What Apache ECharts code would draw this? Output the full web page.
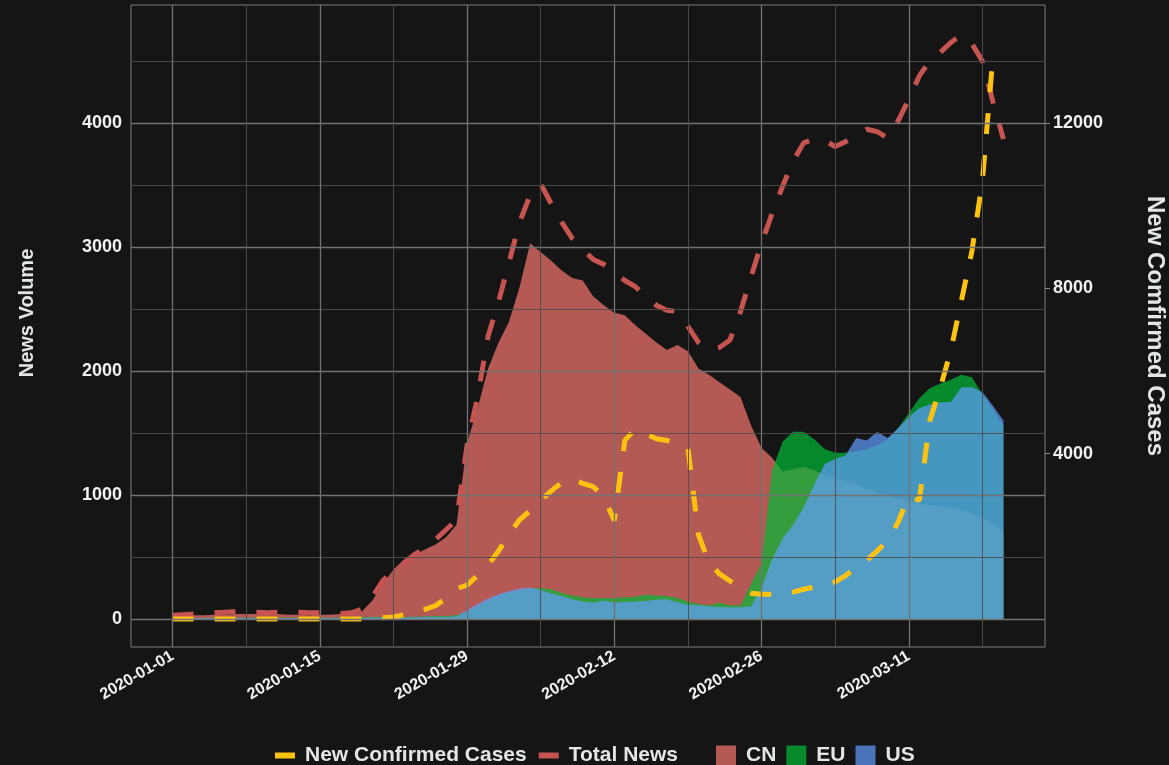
<!DOCTYPE html>
<html>
<head>
<meta charset="utf-8">
<title>News Volume vs New Confirmed Cases</title>
<script src="https://cdn.jsdelivr.net/npm/echarts@6/dist/echarts.min.js"></script>
<style>
html,body{margin:0;padding:0;background:#151515;}
#main{width:1169px;height:765px;}
</style>
</head>
<body>
<div id="main"></div>
<script>
// one entry per day, 2020-01-01 .. 2020-03-20
var dates = [
    '2020-01-01','2020-01-02','2020-01-03','2020-01-04','2020-01-05','2020-01-06','2020-01-07','2020-01-08','2020-01-09','2020-01-10',
    '2020-01-11','2020-01-12','2020-01-13','2020-01-14','2020-01-15','2020-01-16','2020-01-17','2020-01-18','2020-01-19','2020-01-20',
    '2020-01-21','2020-01-22','2020-01-23','2020-01-24','2020-01-25','2020-01-26','2020-01-27','2020-01-28','2020-01-29','2020-01-30',
    '2020-01-31','2020-02-01','2020-02-02','2020-02-03','2020-02-04','2020-02-05','2020-02-06','2020-02-07','2020-02-08','2020-02-09',
    '2020-02-10','2020-02-11','2020-02-12','2020-02-13','2020-02-14','2020-02-15','2020-02-16','2020-02-17','2020-02-18','2020-02-19',
    '2020-02-20','2020-02-21','2020-02-22','2020-02-23','2020-02-24','2020-02-25','2020-02-26','2020-02-27','2020-02-28','2020-02-29',
    '2020-03-01','2020-03-02','2020-03-03','2020-03-04','2020-03-05','2020-03-06','2020-03-07','2020-03-08','2020-03-09','2020-03-10',
    '2020-03-11','2020-03-12','2020-03-13','2020-03-14','2020-03-15','2020-03-16','2020-03-17','2020-03-18','2020-03-19','2020-03-20'
];
var tickDates = ['2020-01-01','2020-01-15','2020-01-29','2020-02-12','2020-02-26','2020-03-11'];
var volumeTicks = [0, 1000, 2000, 3000, 4000];
var casesTicks = [4000, 8000, 12000];

// news volume by region
var cnNews = [
    20,25,30,30,35,35,40,40,40,35, 40,35,35,30,35,35,40,40,60,150,
    280,400,480,520,560,600,660,760,1420,1700, 2020,2230,2400,2680,3030,2960,2890,2810,2750,2730,
    2600,2530,2470,2450,2370,2300,2230,2170,2210,2160, 2020,1970,1910,1850,1790,1560,1380,1300,1190,1210,
    1225,1200,1160,1130,1110,1080,1050,1020,990,970, 950,930,920,910,900,880,850,810,770,700
];
var euNews = [
    5,5,8,8,10,10,10,10,10,10, 10,10,10,10,10,10,12,12,15,15,
    15,15,15,18,20,25,25,30,60,100, 150,190,215,230,245,250,240,210,190,175,
    170,170,170,175,180,195,190,185,170,140, 120,110,130,110,110,280,450,1200,1430,1510,
    1510,1450,1370,1340,1340,1350,1370,1400,1450,1540, 1660,1780,1860,1900,1930,1970,1950,1810,1690,1560
];
var usNews = [
    5,5,5,5,8,8,8,8,8,8, 8,8,8,8,8,8,8,8,10,10,
    12,12,12,14,15,15,16,20,70,120, 165,200,225,245,252,236,205,185,160,140,
    130,150,130,137,140,145,155,160,135,115, 110,100,97,95,95,100,250,480,650,760,
    900,1080,1250,1290,1320,1460,1440,1510,1460,1540, 1630,1700,1730,1745,1750,1870,1870,1830,1720,1600
];
var totalNews = [
    30,35,40,45,50,55,60,60,55,50, 55,60,55,50,50,55,45,50,80,180,
    310,390,450,520,570,640,720,800,1400,1790, 2280,2560,2880,3200,3420,3510,3350,3200,3070,2980,
    2900,2860,2800,2730,2680,2600,2530,2490,2480,2360, 2230,2170,2190,2250,2480,2760,3030,3270,3490,3690,
    3840,3870,3860,3810,3850,3900,3950,3930,3880,4020, 4190,4380,4500,4570,4650,4710,4640,4500,4170,3870
];
var newCases = [
    0,0,0,0,0,0,0,0,0,0, 0,0,0,0,0,0,0,0,0,20,
    30,50,100,150,230,320,500,730,820,1050, 1300,1650,2050,2400,2620,2860,3100,3300,3400,3280,
    3200,2960,2380,4320,4600,4480,4360,4320,4220,4150, 2040,1360,1090,920,740,620,600,600,610,650,
    720,770,790,900,1050,1250,1420,1650,1900,2350, 2980,2870,4800,5600,6500,7700,8900,10600,13600,null
];

function pairs(arr) {
    return arr.map(function (v, i) { return [i, v]; });
}

var tickIdx = tickDates.map(function (d) { return dates.indexOf(d); });
var txt = '#e2e6e6';
var font = "'Liberation Sans', Arial, sans-serif";

// grid lines (major + minor, like ggplot)
var gridLines = [];
var majorStyle = { color: '#727272', width: 1.3, type: 'solid' };
var minorStyle = { color: '#4e4e4e', width: 0.9, type: 'solid' };
[0, 500, 1000, 1500, 2000, 2500, 3000, 3500, 4000, 4500].forEach(function (v) {
    gridLines.push({ yAxis: v, lineStyle: v % 1000 === 0 ? majorStyle : minorStyle });
});
[0, 7, 14, 21, 28, 35, 42, 49, 56, 63, 70, 77].forEach(function (v) {
    gridLines.push({ xAxis: v, lineStyle: v % 14 === 0 ? majorStyle : minorStyle });
});

function areaSeries(name, arr, color) {
    return {
        name: name, type: 'line', data: pairs(arr), z: 2,
        symbol: 'none', showSymbol: false,
        itemStyle: { color: color },
        lineStyle: { width: 0, opacity: 0 },
        areaStyle: { color: color, opacity: 0.7 }
    };
}

var plain = function (v) { return String(v); };
var legendText = { color: txt, fontSize: 21, fontWeight: 'bold', fontFamily: font, padding: [0, 0, 0, 5] };

var chart = echarts.init(document.getElementById('main'));
chart.setOption({
    backgroundColor: '#151515',
    animation: false,
    grid: {
        left: 131, right: 124, top: 5, bottom: 118,
        outerBoundsMode: 'none', containLabel: false,
        show: true, borderColor: '#7c7c7c', borderWidth: 1, backgroundColor: 'transparent'
    },
    legend: [{
        left: 270, top: 740,
        itemWidth: 20, itemHeight: 6, itemGap: 12,
        textStyle: legendText,
        data: [
            { name: 'New Confirmed Cases', icon: 'rect', itemStyle: { color: '#FFC20E' } },
            { name: 'Total News', icon: 'rect', itemStyle: { color: '#C75450' } }
        ]
    }, {
        left: 711, top: 740,
        itemWidth: 20, itemHeight: 20, itemGap: 10,
        textStyle: legendText,
        data: [
            { name: 'CN', icon: 'rect', itemStyle: { color: '#B45953' } },
            { name: 'EU', icon: 'rect', itemStyle: { color: '#07892E' } },
            { name: 'US', icon: 'rect', itemStyle: { color: '#4B74B9' } }
        ]
    }],
    xAxis: {
        type: 'value', min: -3.95, max: 82.95,
        axisLine: { show: false },
        splitLine: { show: false },
        axisTick: { show: true, length: 5, customValues: tickIdx, lineStyle: { color: '#8a8a8a' } },
        axisLabel: {
            customValues: tickIdx, rotate: 30, margin: 8,
            color: '#f2f2f2', fontSize: 16, fontWeight: 'bold', fontFamily: font,
            formatter: function (v) { return dates[Math.round(v)]; }
        }
    },
    yAxis: [{
        type: 'value', min: -226, max: 4952,
        name: 'News Volume', nameLocation: 'middle', nameGap: 94, nameRotate: 90,
        nameTextStyle: { color: txt, fontSize: 20, fontWeight: 'bold', fontFamily: font, padding: [0, 0, 0, 26] },
        axisLine: { show: false },
        splitLine: { show: false },
        axisTick: { show: true, length: 5, customValues: volumeTicks, lineStyle: { color: '#8a8a8a' } },
        axisLabel: { customValues: volumeTicks, margin: 9, color: '#f2f2f2', fontSize: 18, fontWeight: 'bold', fontFamily: font, formatter: plain }
    }, {
        type: 'value', position: 'right', min: -678, max: 14856,
        name: 'New Comfirmed Cases', nameLocation: 'middle', nameGap: 98, nameRotate: -90,
        nameTextStyle: { color: txt, fontSize: 24, fontWeight: 'bold', fontFamily: font },
        axisLine: { show: false },
        splitLine: { show: false },
        axisTick: { show: true, length: 5, customValues: casesTicks, lineStyle: { color: '#8a8a8a' } },
        axisLabel: { customValues: casesTicks, margin: 8, color: '#f2f2f2', fontSize: 18, fontWeight: 'bold', fontFamily: font, formatter: plain }
    }],
    series: [
        {
            name: 'grid', type: 'line', data: [], z: 1, silent: true,
            markLine: { silent: true, symbol: ['none', 'none'], label: { show: false }, animation: false, data: gridLines }
        },
        areaSeries('CN', cnNews, '#F8766D'),
        areaSeries('EU', euNews, '#00BA38'),
        areaSeries('US', usNews, '#619CFF'),
        {
            name: 'Total News', type: 'line', data: pairs(totalNews), z: 3,
            symbol: 'none', showSymbol: false,
            itemStyle: { color: '#C75450' },
            lineStyle: { color: '#C75450', width: 5, type: [21, 21], cap: 'butt' }
        },
        {
            name: 'New Confirmed Cases', type: 'line', yAxisIndex: 1, data: pairs(newCases), z: 4,
            symbol: 'none', showSymbol: false,
            itemStyle: { color: '#FFC20E' },
            lineStyle: { color: '#FFC20E', width: 5, type: [21, 21], cap: 'butt' }
        }
    ]
});
</script>
</body>
</html>
